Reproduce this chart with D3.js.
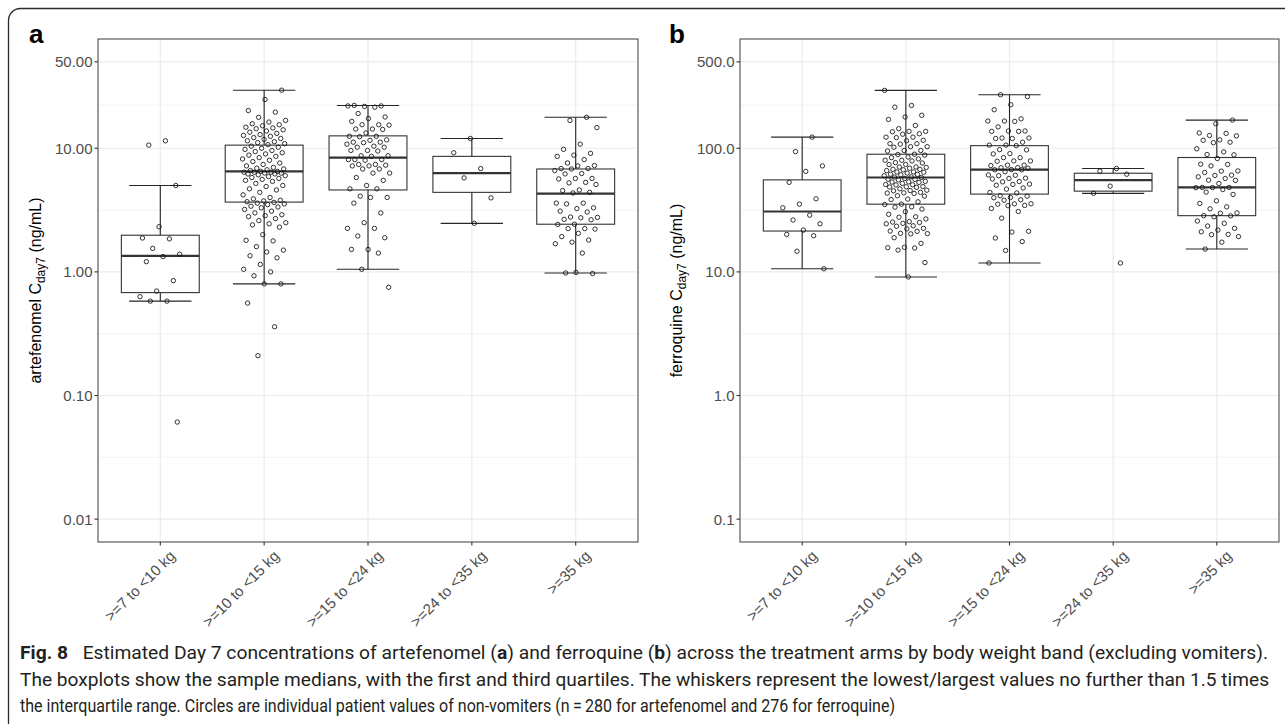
<!DOCTYPE html>
<html><head><meta charset="utf-8">
<script src="https://cdn.jsdelivr.net/npm/d3@7/dist/d3.min.js"></script>
<style>body{margin:0;background:#fff} svg{display:block}</style>
</head><body><svg id="c" width="1285" height="724"></svg>
<script>
// ---------------- data ----------------
const categories = [">=7 to <10 kg", ">=10 to <15 kg", ">=15 to <24 kg", ">=24 to <35 kg", ">=35 kg"];

const artLimits = [0.01, 50];
const artTicks = [0.01, 0.1, 1, 10, 50];
const artTickLabels = ["0.01", "0.10", "1.00", "10.00", "50.00"];
const artLow    = [0.58, 0.80, 1.05, 2.47, 0.98];
const artQ1     = [0.68, 3.67, 4.6, 4.4, 2.43];
const artMedian = [1.35, 6.5, 8.4, 6.3, 4.3];
const artQ3     = [1.98, 10.6, 12.6, 8.6, 6.8];
const artHigh   = [5.0, 29.5, 22.2, 12.0, 17.8];
const artPoints = [
  [11.5, 10.6, 5.0, 2.32, 1.88, 1.85, 1.55, 1.39, 1.33, 1.21, 0.85, 0.70, 0.63, 0.58, 0.58, 0.061],
  [29.5, 24.8, 20.2, 19.6, 17.8, 16.8, 16.3, 15.8, 15.5, 15.2, 14.8, 14.6, 14.4, 14.1, 13.8, 13.5, 13.2, 12.9, 12.7, 12.5,
   12.2, 12.0, 11.8, 11.5, 11.3, 11.1, 10.9, 10.7, 10.4, 10.2, 10.0, 9.8, 9.6, 9.4, 9.2, 9.0, 8.8, 8.6, 8.4, 8.2,
   8.0, 7.8, 7.6, 7.4, 7.2, 7.0, 6.9, 6.8, 6.7, 6.6, 6.5, 6.5, 6.4, 6.4, 6.4, 6.3, 6.3, 6.2, 6.2, 6.1,
   6.0, 5.9, 5.8, 5.7, 5.6, 5.5, 5.4, 5.2, 5.0, 4.9, 4.7, 4.6, 4.4, 4.2, 4.0, 3.9, 3.8, 3.75, 3.7, 3.65,
   3.6, 3.55, 3.5, 3.4, 3.35, 3.3, 3.2, 3.1, 3.0, 2.9, 2.85, 2.8, 2.7, 2.6, 2.5, 2.45, 2.4, 2.3, 2.0, 1.8,
   1.78, 1.6, 1.5, 1.45, 1.35, 1.3, 1.15, 1.05, 1.0, 0.93, 0.80, 0.80, 0.56, 0.36, 0.21],
  [22.2, 22.0, 21.8, 22.0, 21.5, 19.1, 17.9, 17.4, 16.5, 15.5, 15.5, 15.4, 14.3, 14.3, 14.2, 13.3, 12.5, 12.5, 12.4, 11.7,
   11.6, 11.2, 11.2, 11.1, 10.8, 10.4, 10.2, 10.2, 9.6, 9.6, 9.5, 8.7, 8.7, 8.6, 8.1, 8.1, 8.0, 8.1, 7.4, 7.4,
   7.3, 7.2, 7.2, 6.8, 6.8, 6.3, 6.3, 5.8, 5.5, 5.0, 4.7, 4.7, 4.1, 4.0, 4.0, 3.6, 3.0, 2.5, 2.25, 2.25,
   1.95, 1.89, 1.52, 1.52, 1.42, 1.05, 0.75],
  [12.0, 9.2, 6.85, 5.76, 3.97, 2.47],
  [17.8, 16.8, 14.7, 10.8, 9.8, 9.1, 8.8, 8.6, 8.1, 7.6, 7.25, 7.2, 6.85, 6.85, 6.8, 6.6, 6.25, 6.2, 5.7, 5.7,
   5.65, 5.3, 5.25, 5.1, 4.6, 4.55, 4.4, 4.35, 3.6, 3.6, 3.55, 3.3, 3.25, 3.1, 3.05, 2.78, 2.76, 2.74, 2.66, 2.64,
   2.43, 2.42, 2.24, 2.24, 2.22, 2.05, 1.93, 1.81, 1.74, 1.69, 1.42, 0.98, 0.97, 0.99]
];

const ferLimits = [0.1, 500];
const ferTicks = [0.1, 1, 10, 100, 500];
const ferTickLabels = ["0.1", "1.0", "10.0", "100.0", "500.0"];
const ferLow    = [10.6, 9.1, 11.8, 43.2, 15.3];
const ferQ1     = [21.4, 35.3, 42.6, 45.0, 28.5];
const ferMedian = [30.8, 58.0, 67.3, 55.2, 48.2];
const ferQ3     = [55.5, 89.5, 105, 62.8, 84.2];
const ferHigh   = [123, 294, 271, 68.6, 169];
const ferPoints = [
  [123, 94, 72, 65, 53, 39, 35.3, 33, 28.8, 26.3, 24.5, 21.8, 20.1, 19.6, 14.7, 10.6],
  [294, 222, 215, 185, 179, 171, 153, 144, 137, 137, 136, 131, 130, 123, 123, 122, 116, 115, 109, 109,
   108, 103, 103, 102, 96, 96, 95, 89.5, 89, 88, 85, 84, 82, 80, 80, 79, 76.6, 76, 74, 73.8,
   70.6, 70.5, 70, 69, 67.6, 67.5, 67, 66, 64.4, 64.3, 64, 63, 61.7, 61.5, 61, 60, 58.7, 58.5, 58, 57,
   56.2, 56, 55.5, 54, 53.5, 53.3, 53, 52, 50.9, 50.7, 50.5, 49, 48.8, 48.6, 48.3, 47, 45.8, 45.5, 45.3, 44,
   43.6, 43.4, 43.1, 41.3, 41, 38.8, 38.5, 36.9, 35.3, 35.1, 33.6, 33.4, 32.2, 30.7, 29.2, 27.9, 27.7, 26.8, 25.5, 25.3,
   25.1, 24.7, 24.5, 23.6, 23.4, 22.5, 22.3, 21.4, 21.3, 20.5, 20.4, 20.3, 18.9, 17, 15.8, 15.7, 15.6, 15.0, 11.9, 9.1],
  [271, 262, 225, 205, 173, 166, 166, 165, 149, 138, 138, 137, 137, 121, 121, 120, 120, 112, 106, 106,
   105, 97.5, 97, 90.5, 90, 84, 84, 79, 79, 78.5, 73, 73, 72.5, 69.8, 69.5, 69, 67.3, 67, 67, 64.6,
   60.9, 60.5, 60, 57.3, 57, 56.5, 53.8, 53.5, 51.3, 51, 50.2, 47.8, 46.7, 43.9, 43.5, 41.3, 41, 40, 39.8, 38.3,
   38, 35.6, 35.5, 35.3, 34.5, 34.3, 32.6, 30.8, 27.2, 21.3, 21, 18.8, 17.6, 14.9, 11.8],
  [68.6, 65.3, 61.7, 49.4, 43.2, 11.8],
  [169, 158, 133, 132, 127, 126, 117, 116, 112, 111, 99, 93.5, 89, 88.5, 82.6, 74.3, 74, 72, 65.6, 65.3,
   63.7, 60.6, 60.3, 58.7, 57, 55.2, 55, 51.9, 48.2, 48.2, 48.1, 48, 46.4, 44.2, 42.3, 37.6, 35.8, 33.6, 32.4, 30,
   29.8, 28.5, 28.4, 27.9, 25.8, 24.7, 23.5, 22.5, 21.8, 21.1, 20.1, 20, 19.3, 17.4, 15.3]
];

const artTitle = "artefenomel";
const ferTitle = "ferroquine";
const captionLines = [
  [["Fig. 8", true], ["\u2002 Estimated Day 7 concentrations of artefenomel (", false], ["a", true], [") and ferroquine (", false], ["b", true], [") across the treatment arms by body weight band (excluding vomiters).", false]],
  [["The boxplots show the sample medians, with the first and third quartiles. The whiskers represent the lowest/largest values no further than 1.5 times", false]],
  [["the interquartile range. Circles are individual patient values of non-vomiters (n\u2009=\u2009280 for artefenomel and 276 for ferroquine)", false]]
];

// ---------------- drawing ----------------
const svg = d3.select("#c");
const FONT = "'Liberation Sans', Arial, Helvetica, sans-serif";
const yTop = 39, yBot = 542;

svg.append("path")
  .attr("d", "M8.5,724 V20.5 A12,12 0 0 1 20.5,8.5 H1285")
  .attr("fill", "none").attr("stroke", "#2b2b2b").attr("stroke-width", 1.3);

const panels = [
  {x0: 98, x1: 638, letter: "a", letterX: 29, titleX: 41, title: artTitle, limits: artLimits, ticks: artTicks, tickLabels: artTickLabels,
   low: artLow, q1: artQ1, med: artMedian, q3: artQ3, high: artHigh, points: artPoints},
  {x0: 740, x1: 1279, letter: "b", letterX: 669, titleX: 682, title: ferTitle, limits: ferLimits, ticks: ferTicks, tickLabels: ferTickLabels,
   low: ferLow, q1: ferQ1, med: ferMedian, q3: ferQ3, high: ferHigh, points: ferPoints}
];

panels.forEach((p, pi) => {
  const g = svg.append("g");
  const lo = Math.log10(p.limits[0]), hi = Math.log10(p.limits[1]);
  const span = hi - lo;
  const y = d3.scaleLog().domain([Math.pow(10, lo - 0.05 * span), Math.pow(10, hi + 0.05 * span)]).range([yBot, yTop]);
  const x = d3.scalePoint().domain(categories).range([p.x0, p.x1]).padding(0.6);
  const step = x.step();

  const minors = d3.pairs(p.ticks).map(([a, b]) => Math.sqrt(a * b));
  g.selectAll(".minor").data(minors).join("line")
    .attr("x1", p.x0).attr("x2", p.x1).attr("y1", d => y(d)).attr("y2", d => y(d))
    .attr("stroke", "#ebebeb").attr("stroke-width", 0.6);
  g.selectAll(".major").data(p.ticks).join("line")
    .attr("x1", p.x0).attr("x2", p.x1).attr("y1", d => y(d)).attr("y2", d => y(d))
    .attr("stroke", "#ebebeb").attr("stroke-width", 1.2);
  g.selectAll(".vmajor").data(categories).join("line")
    .attr("x1", d => x(d)).attr("x2", d => x(d)).attr("y1", yTop).attr("y2", yBot)
    .attr("stroke", "#ebebeb").attr("stroke-width", 1.2);

  const stats = categories.map((c, i) => ({c, lo: p.low[i], q1: p.q1[i], med: p.med[i], q3: p.q3[i], hi: p.high[i]}));
  const sg = g.selectAll(".stat").data(stats).join("g");
  sg.append("line").attr("x1", d => x(d.c)).attr("x2", d => x(d.c))
    .attr("y1", d => y(d.lo)).attr("y2", d => y(d.hi)).attr("stroke", "#262626").attr("stroke-width", 1.1);
  ["lo", "hi"].forEach(k => {
    sg.append("line").attr("x1", d => x(d.c) - 0.3 * step).attr("x2", d => x(d.c) + 0.3 * step)
      .attr("y1", d => y(d[k])).attr("y2", d => y(d[k])).attr("stroke", "#262626").attr("stroke-width", 1.1);
  });
  sg.append("rect").attr("x", d => x(d.c) - 0.375 * step).attr("width", 0.75 * step)
    .attr("y", d => y(d.q3)).attr("height", d => y(d.q1) - y(d.q3))
    .attr("fill", "#fff").attr("stroke", "#333").attr("stroke-width", 1.1);
  sg.append("line").attr("x1", d => x(d.c) - 0.375 * step).attr("x2", d => x(d.c) + 0.375 * step)
    .attr("y1", d => y(d.med)).attr("y2", d => y(d.med)).attr("stroke", "#333").attr("stroke-width", 2.2);

  const pts = [];
  p.points.forEach((arr, k) => arr.forEach((v, i) => {
    const f = (((i + 1) * 0.6180339887 + k * 0.283 + pi * 0.11) % 1) - 0.5;
    pts.push({c: categories[k], v, off: f * 0.42 * step});
  }));
  g.selectAll(".pt").data(pts).join("circle")
    .attr("cx", d => x(d.c) + d.off).attr("cy", d => y(d.v)).attr("r", 2.2)
    .attr("fill", "none").attr("stroke", "#111").attr("stroke-width", 0.85);

  g.append("rect").attr("x", p.x0).attr("y", yTop).attr("width", p.x1 - p.x0).attr("height", yBot - yTop)
    .attr("fill", "none").attr("stroke", "#4d4d4d").attr("stroke-width", 1.1);

  g.selectAll(".ytick").data(p.ticks).join("line")
    .attr("x1", p.x0 - 3.5).attr("x2", p.x0).attr("y1", d => y(d)).attr("y2", d => y(d))
    .attr("stroke", "#333").attr("stroke-width", 1.1);
  g.selectAll(".ylab").data(p.ticks).join("text")
    .attr("x", p.x0 - 5.5).attr("y", d => y(d)).attr("dy", "0.36em")
    .attr("text-anchor", "end").attr("font-family", FONT).attr("font-size", 15).attr("fill", "#4d4d4d")
    .text((d, i) => p.tickLabels[i]);

  g.selectAll(".xtick").data(categories).join("line")
    .attr("x1", d => x(d)).attr("x2", d => x(d)).attr("y1", yBot).attr("y2", yBot + 3.5)
    .attr("stroke", "#333").attr("stroke-width", 1.1);
  g.selectAll(".xlab").data(categories).join("text")
    .attr("transform", d => `translate(${x(d) + 8},${yBot + 7}) rotate(-45)`)
    .attr("text-anchor", "end").attr("dominant-baseline", "hanging")
    .attr("font-family", FONT).attr("font-size", 15).attr("fill", "#4d4d4d")
    .text(d => d);

  const t = g.append("text")
    .attr("transform", `translate(${p.titleX},${(yTop + yBot) / 2}) rotate(-90)`)
    .attr("text-anchor", "middle").attr("font-family", FONT).attr("font-size", 16).attr("fill", "#000");
  t.append("tspan").text(p.title + " C");
  t.append("tspan").attr("font-size", 12).attr("dy", 3.5).text("day7");
  t.append("tspan").attr("dy", -3.5).text(" (ng/mL)");

  g.append("text").attr("x", p.letterX).attr("y", 43)
    .attr("font-family", FONT).attr("font-weight", "bold").attr("font-size", 26).attr("fill", "#000")
    .text(p.letter);
});

// caption
const capY = [659, 686, 712];
const capLen = [1248, 1249, 875];
captionLines.forEach((parts, li) => {
  const t = svg.append("text").attr("x", 20).attr("y", capY[li])
    .attr("font-family", "Roboto, 'Liberation Sans', sans-serif").attr("font-size", 19).attr("fill", "#231f20")
    .attr("textLength", capLen[li]).attr("lengthAdjust", "spacingAndGlyphs")
    .style("white-space", "pre");
  parts.forEach(([s, b]) => t.append("tspan").attr("font-weight", b ? "bold" : "normal").text(s));
});
</script>
</body></html>
